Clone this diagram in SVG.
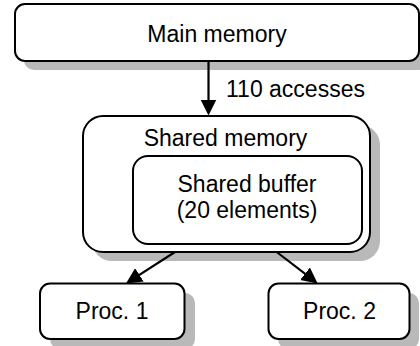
<svg xmlns="http://www.w3.org/2000/svg" width="420" height="346" viewBox="0 0 420 346">
  <style>
    .box { fill: #ffffff; stroke: #000000; stroke-width: 2; }
    .shadow { fill: #b9b9b9; stroke: none; }
    .label { font-family: "Liberation Sans", Arial, sans-serif; font-size: 23px; fill: #000000; }
    .mid { text-anchor: middle; }
    .edge { stroke: #000000; stroke-width: 2.2; fill: none; marker-end: url(#head); }
  </style>
  <defs>
    <marker id="head" markerUnits="userSpaceOnUse" markerWidth="18" markerHeight="18" refX="13" refY="8" orient="auto">
      <path d="M0,0 L16,8 L0,16 z" fill="#000000"/>
    </marker>
  </defs>
  <rect width="420" height="346" fill="#ffffff"/>

  <g id="main-memory">
    <rect class="shadow" x="24" y="13" width="404" height="57" rx="10"/>
    <rect class="box" x="15" y="4" width="404" height="57" rx="10"/>
    <text class="label mid" x="217" y="41.5">Main memory</text>
  </g>

  <g id="shared-memory">
    <rect class="shadow" x="92" y="125" width="288" height="136" rx="20"/>
    <rect class="box" x="83" y="116" width="287" height="136" rx="20"/>
    <text class="label mid" x="225.5" y="146">Shared memory</text>
  </g>

  <g id="shared-buffer">
    <rect class="box" x="133" y="156" width="229" height="88" rx="15"/>
    <text class="label mid" x="247" y="192">Shared buffer</text>
    <text class="label mid" x="247" y="218">(20 elements)</text>
  </g>

  <g id="proc-1">
    <rect class="shadow" x="50" y="293" width="145" height="56" rx="10"/>
    <rect class="box" x="40" y="283.5" width="144.5" height="55.5" rx="10"/>
    <text class="label mid" x="112" y="318.5">Proc. 1</text>
  </g>

  <g id="proc-2">
    <rect class="shadow" x="278" y="293" width="141" height="56" rx="10"/>
    <rect class="box" x="268.5" y="283.5" width="141" height="55.5" rx="10"/>
    <text class="label mid" x="339.5" y="318.5">Proc. 2</text>
  </g>

  <g id="connectors">
    <line class="edge" x1="208.5" y1="61" x2="208.5" y2="112.5"/>
    <text class="label" x="226" y="96.5">110 accesses</text>
    <line class="edge" x1="175" y1="252" x2="128.5" y2="281.9"/>
    <line class="edge" x1="276.7" y1="252" x2="315.3" y2="281.7"/>
  </g>
</svg>
